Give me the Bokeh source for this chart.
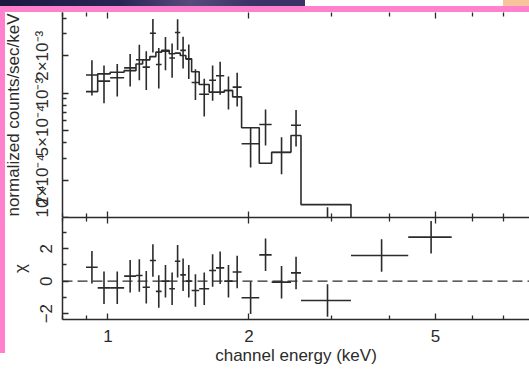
import math
from bokeh.plotting import figure
from bokeh.models import FixedTicker, LogAxis, Div, Span, ColumnDataSource, Range1d
from bokeh.layouts import column
from bokeh.embed import file_html
from bokeh.resources import INLINE

# ---------------- data ----------------
# channel bin edges (keV)
edges = [0.898, 0.951, 1.011, 1.083, 1.148, 1.186, 1.229, 1.266, 1.302, 1.352,
         1.390, 1.427, 1.467, 1.509, 1.566, 1.645, 1.701, 1.771, 1.846, 1.929,
         2.104, 2.236, 2.459, 2.583, 3.302, 4.375, 5.416]
# data, normalized counts/sec/keV
rate = [1.40e-3, 1.25e-3, 1.33e-3, 1.60e-3, 1.86e-3, 1.62e-3, 3.04e-3, 1.70e-3, 2.18e-3, 1.92e-3,
        3.08e-3, 2.21e-3, 1.88e-3, 1.22e-3, 0.98e-3, 1.27e-3, 1.38e-3, 1.05e-3, 1.12e-3, 0.392e-3,
        0.560e-3, 0.333e-3, 0.552e-3, 0.088e-3, 0.039e-3, 0.032e-3]
rate_err = [0.44e-3, 0.42e-3, 0.39e-3, 0.47e-3, 0.59e-3, 0.56e-3, 0.91e-3, 0.61e-3, 0.65e-3, 0.59e-3,
            0.85e-3, 0.63e-3, 0.58e-3, 0.34e-3, 0.33e-3, 0.40e-3, 0.41e-3, 0.31e-3, 0.34e-3, 0.14e-3,
            0.18e-3, 0.11e-3, 0.18e-3, 0.033e-3, 0.012e-3, 0.008e-3]
# folded model
model = [1.03e-3, 1.43e-3, 1.475e-3, 1.52e-3, 1.72e-3, 1.855e-3, 1.97e-3, 2.14e-3, 2.21e-3, 2.075e-3,
         2.10e-3, 2.01e-3, 1.89e-3, 1.49e-3, 1.175e-3, 1.02e-3, 1.02e-3, 1.05e-3, 0.935e-3, 0.527e-3,
         0.2735e-3, 0.335e-3, 0.457e-3, 0.127e-3, 0.020e-3, 0.010e-3]
# residuals (chi) and their error bars
chi = [0.86, -0.41, -0.41, 0.31, 0.35, -0.37, 1.27, -0.63, 0.0, -0.47,
       1.23, 0.39, 0.0, -0.57, -0.47, 0.66, 0.82, 0.0, 0.56, -1.02,
       1.62, -0.06, 0.51, -1.19, 1.58, 2.71]
chi_err = [1.0, 1.0, 1.0, 1.0, 1.0, 1.0, 1.0, 1.0, 1.0, 1.0,
           1.0, 1.0, 1.0, 1.0, 1.0, 1.0, 1.0, 1.0, 1.0, 1.0,
           1.0, 1.0, 1.0, 1.0, 1.0, 1.0]

x_ticks = [1, 2, 5]
x_tick_labels = ["1", "2", "5"]
x_minor = [0.8, 0.9, 3, 4, 6, 7]
y_ticks = [1e-4, 2e-4, 5e-4, 1e-3, 2e-3]
y_tick_labels = ["10\u207b\u2074", "2\u00d710\u207b\u2074", "5\u00d710\u207b\u2074", "10\u207b\u00b3", "2\u00d710\u207b\u00b3"]
y_minor = [3e-4, 4e-4, 6e-4, 7e-4, 8e-4, 9e-4, 3e-3, 4e-3]
chi_ticks = [-2, 0, 2]
chi_tick_labels = ["\u22122", "0", "2"]
chi_minor = [-1, 1, 3]

X_MIN, X_MAX = 0.8, 7.94
INK = "#2b2b2b"
PINK = "#ff80cc"
FONT = "Liberation Sans"
FS = "17px"

lo = edges[:-1]
hi = edges[1:]
mid = [(a + b) / 2 for a, b in zip(lo, hi)]

src = ColumnDataSource(dict(
    lo=lo, hi=hi, mid=mid, rate=rate,
    r0=[r - e for r, e in zip(rate, rate_err)],
    r1=[r + e for r, e in zip(rate, rate_err)],
    chi=chi,
    c0=[c - e for c, e in zip(chi, chi_err)],
    c1=[c + e for c, e in zip(chi, chi_err)],
))

x_range = Range1d(X_MIN, X_MAX)


def style_axis(ax, show_labels, line=True):
    ax.axis_line_color = INK if line else None
    ax.axis_line_width = 1.5
    ax.major_tick_line_color = INK
    ax.minor_tick_line_color = INK
    ax.major_tick_line_width = 1.3
    ax.minor_tick_line_width = 1.3
    ax.major_tick_in = 6
    ax.major_tick_out = 0
    ax.minor_tick_in = 4
    ax.minor_tick_out = 0
    ax.major_label_text_font = FONT
    ax.major_label_text_color = INK
    ax.axis_label_text_font = FONT
    ax.axis_label_text_font_size = FS
    ax.axis_label_text_font_style = "normal"
    ax.axis_label_text_color = INK
    if show_labels:
        ax.major_label_text_font_size = FS
    else:
        ax.major_label_text_font_size = "0px"
        ax.major_label_standoff = 0


def x_ticker():
    return FixedTicker(ticks=x_ticks, minor_ticks=x_minor)


# ---------------- upper panel ----------------
p1 = figure(width=529, height=205, x_axis_type="log", y_axis_type="log",
            x_range=x_range, y_range=Range1d(1.0e-4, 4.46e-3),
            output_backend="svg", toolbar_location=None,
            min_border_left=62, min_border_right=0, min_border_top=0, min_border_bottom=0,
            outline_line_color=None, background_fill_color="white", border_fill_color=None,
            styles={"background": f"linear-gradient(90deg, {PINK} 0px, {PINK} 5px, #ffffff 5px)"})
p1.grid.visible = False

p1.xaxis.ticker = x_ticker()
p1.xaxis.major_label_overrides = {t: "" for t in x_ticks}
style_axis(p1.xaxis[0], False)

top1 = LogAxis(ticker=x_ticker(), major_label_overrides={t: "" for t in x_ticks})
style_axis(top1, False, line=False)
p1.add_layout(top1, "above")

p1.yaxis.ticker = FixedTicker(ticks=y_ticks, minor_ticks=y_minor)
p1.yaxis.major_label_overrides = dict(zip(y_ticks, y_tick_labels))
p1.yaxis.major_label_orientation = "vertical"
p1.yaxis.major_label_standoff = 10
p1.yaxis.axis_label = "normalized counts/sec/keV"
p1.yaxis.axis_label_standoff = 8
style_axis(p1.yaxis[0], True)

p1.segment(x0="mid", y0="r0", x1="mid", y1="r1", source=src, line_color=INK, line_width=1.6)
p1.segment(x0="lo", y0="rate", x1="hi", y1="rate", source=src, line_color=INK, line_width=1.6)
p1.step(x=edges, y=model + [model[-1]], mode="after", line_color=INK, line_width=1.6)

# ---------------- lower panel ----------------
p2 = figure(width=529, height=152, x_axis_type="log",
            x_range=x_range, y_range=Range1d(-2.36, 3.92),
            output_backend="svg", toolbar_location=None,
            min_border_left=62, min_border_right=0, min_border_top=0, min_border_bottom=50,
            outline_line_color=None, background_fill_color="white", border_fill_color=None,
            styles={"background": f"linear-gradient({PINK}, {PINK}) 0px 0px / 5px 136px no-repeat, #ffffff"})
p2.grid.visible = False

p2.xaxis.ticker = x_ticker()
p2.xaxis.major_label_overrides = dict(zip(x_ticks, x_tick_labels))
p2.xaxis.major_label_standoff = 10
p2.xaxis.axis_label = "channel energy (keV)"
p2.xaxis.axis_label_standoff = 1
style_axis(p2.xaxis[0], True)

top2 = LogAxis(ticker=x_ticker(), major_label_overrides={t: "" for t in x_ticks})
style_axis(top2, False)
p2.add_layout(top2, "above")

p2.yaxis.ticker = FixedTicker(ticks=chi_ticks, minor_ticks=chi_minor)
p2.yaxis.major_label_overrides = dict(zip(chi_ticks, chi_tick_labels))
p2.yaxis.major_label_orientation = "vertical"
p2.yaxis.major_label_standoff = 10
p2.yaxis.axis_label = "\u03c7"
p2.yaxis.axis_label_standoff = 8
style_axis(p2.yaxis[0], True)

p2.add_layout(Span(location=0, dimension="width", line_color=INK, line_width=1.4, line_dash="10 5"))
p2.segment(x0="mid", y0="c0", x1="mid", y1="c1", source=src, line_color=INK, line_width=1.6)
p2.segment(x0="lo", y0="chi", x1="hi", y1="chi", source=src, line_color=INK, line_width=1.6)

# ---------------- screenshot frame ----------------
band = Div(text="", width=529, height=6, margin=0, styles={
    "background": "linear-gradient(90deg, #1c1940 0px, #2a2455 120px, #574b7c 190px, #3b3366 250px, #3a3264 305px, #ffffff 305px, #ffffff 503px, #f6c39a 503px)"})
pink_top = Div(text="", width=529, height=6, margin=0, styles={"background": PINK})

layout = column(band, pink_top, p1, p2, spacing=0, margin=0)

open("out.html", "w").write(file_html(layout, INLINE))
